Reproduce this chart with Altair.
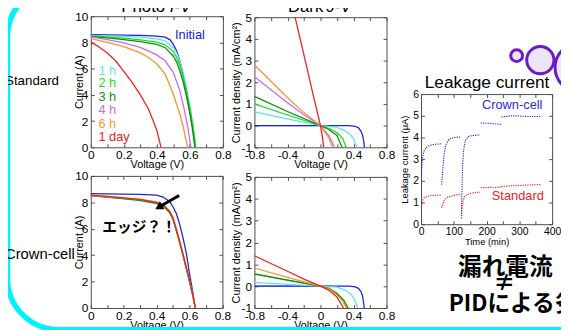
import altair as alt
import pandas as pd

W, H = 561, 322
FONT = "Liberation Sans"
JFONT = "Noto Sans CJK JP"
FRAME = "#4d4d4d"

SERIES = ["Initial flat", "Initial", "1 h", "2 h", "3 h", "4 h", "6 h", "1 day", "Crown-cell", "Standard"]
COLORS = ["#8c8cf2", "#2222dd", "#5fe3f2", "#22dd22", "#138a13", "#c46ee6", "#ff9233", "#ee2222", "#2a2ae8", "#ee2222"]

# ---------------- Photo I-V, Standard ----------------
ps_initial_v = [0, 0.1, 0.2, 0.3, 0.4, 0.45, 0.48, 0.5, 0.52, 0.54, 0.56, 0.58, 0.6, 0.62, 0.635]
ps_initial_i = [8.6, 8.58, 8.56, 8.53, 8.48, 8.4, 8.2, 7.85, 7.35, 6.55, 5.4, 4.15, 2.7, 1.3, 0]
ps_1h_v = [0, 0.1, 0.2, 0.3, 0.4, 0.45, 0.5, 0.52, 0.54, 0.56, 0.58, 0.6, 0.62, 0.635]
ps_1h_i = [8.54, 8.5, 8.46, 8.4, 8.28, 8.12, 7.6, 7.2, 6.55, 5.7, 4.5, 3.1, 1.6, 0]
ps_2h_v = [0, 0.1, 0.2, 0.3, 0.4, 0.45, 0.5, 0.52, 0.54, 0.56, 0.58, 0.6, 0.62, 0.635]
ps_2h_i = [8.49, 8.42, 8.33, 8.2, 8.02, 7.82, 7.3, 6.85, 6.2, 5.35, 4.3, 3.0, 1.5, 0]
ps_3h_v = [0, 0.1, 0.2, 0.3, 0.4, 0.45, 0.5, 0.52, 0.54, 0.56, 0.58, 0.6, 0.615, 0.63]
ps_3h_i = [8.44, 8.35, 8.22, 8.07, 7.85, 7.6, 6.95, 6.5, 5.8, 4.95, 3.85, 2.6, 1.45, 0]
ps_4h_v = [0, 0.1, 0.2, 0.3, 0.4, 0.45, 0.5, 0.54, 0.57, 0.59, 0.606]
ps_4h_i = [8.42, 8.22, 7.97, 7.62, 7.05, 6.6, 5.7, 4.3, 2.65, 1.35, 0]
ps_6h_v = [0, 0.1, 0.2, 0.3, 0.35, 0.4, 0.45, 0.5, 0.54, 0.56, 0.586]
ps_6h_i = [8.29, 8.0, 7.68, 7.2, 6.85, 6.35, 5.6, 4.05, 2.5, 1.55, 0]
ps_1day_v = [0, 0.05, 0.1, 0.15, 0.2, 0.25, 0.3, 0.35, 0.4, 0.425]
ps_1day_i = [8.04, 7.65, 7.2, 6.6, 5.8, 4.95, 4.0, 2.9, 1.3, 0]

ps_labels = ["Initial", "1 h", "2 h", "3 h", "4 h", "6 h", "1 day"]
ps_label_v = [0.51, 0.046, 0.046, 0.046, 0.046, 0.046, 0.046]
ps_label_i = [8.57, 5.8, 4.9, 3.85, 2.85, 1.8, 0.78]

# ---------------- Dark J-V, Standard ----------------
ds_flat_v = [-0.8, 0.13]
ds_flat_j = [0, 0]
ds_initial_v = [-0.8, 0.35, 0.42, 0.46, 0.49, 0.51, 0.525, 0.532]
ds_initial_j = [0, 0, -0.03, -0.1, -0.25, -0.45, -0.75, -1.0]
ds_1h_v = [-0.8, -0.4, 0, 0.1, 0.2, 0.3, 0.35, 0.4, 0.44]
ds_1h_j = [0.63, 0.31, 0, -0.03, -0.08, -0.24, -0.38, -0.6, -1.0]
ds_2h_v = [-0.8, -0.4, 0, 0.1, 0.2, 0.27, 0.31]
ds_2h_j = [1.0, 0.49, 0, -0.12, -0.33, -0.6, -1.0]
ds_3h_v = [-0.8, -0.4, 0, 0.1, 0.2, 0.26]
ds_3h_j = [1.35, 0.65, 0, -0.18, -0.45, -1.0]
ds_4h_v = [-0.8, -0.4, -0.2, 0, 0.1, 0.17]
ds_4h_j = [2.25, 1.05, 0.5, 0, -0.45, -1.0]
ds_6h_v = [-0.8, -0.4, -0.2, 0, 0.1, 0.145]
ds_6h_j = [2.8, 1.3, 0.6, 0, -0.55, -1.0]
ds_1day_v = [-0.308, -0.2, -0.1, 0, 0.02, 0.04]
ds_1day_j = [5.0, 3.25, 1.6, 0, -0.45, -1.0]

# ---------------- Photo I-V, Crown-cell ----------------
pc_v = [0, 0.1, 0.2, 0.3, 0.4, 0.44, 0.48, 0.5, 0.52, 0.54, 0.56, 0.58, 0.6, 0.62, 0.635]
pc_initial_i = [8.65, 8.64, 8.62, 8.6, 8.55, 8.4, 8.05, 7.65, 7.15, 6.35, 5.35, 4.2, 2.6, 1.2, 0]
pc_1h_i = [8.48, 8.38, 8.26, 8.13, 7.9, 7.72, 7.22, 6.72, 5.88, 4.98, 4.02, 3.02, 2.02, 0.97, 0]
pc_2h_i = [8.51, 8.42, 8.3, 8.18, 7.95, 7.77, 7.25, 6.75, 5.9, 5.0, 4.05, 3.05, 2.05, 0.98, 0]
pc_3h_i = [8.5, 8.4, 8.28, 8.15, 7.92, 7.73, 7.2, 6.7, 5.85, 4.95, 4.0, 3.0, 2.0, 0.95, 0]
pc_6h_i = [8.52, 8.44, 8.34, 8.22, 8.01, 7.84, 7.33, 6.83, 5.98, 5.07, 4.12, 3.1, 2.1, 1.0, 0]
pc_1day_i = [8.54, 8.45, 8.34, 8.22, 8.0, 7.82, 7.3, 6.8, 5.95, 5.05, 4.1, 3.1, 2.1, 1.0, 0]

# ---------------- Dark J-V, Crown-cell ----------------
dc_flat_v = [-0.8, 0.13]
dc_flat_j = [0, 0]
dc_initial_v = [-0.8, 0.35, 0.42, 0.46, 0.49, 0.51, 0.522, 0.53]
dc_initial_j = [0, 0, -0.03, -0.1, -0.25, -0.45, -0.75, -1.0]
dc_1h_v = [-0.8, -0.4, 0, 0.1, 0.2, 0.3, 0.36, 0.41, 0.45]
dc_1h_j = [0.17, 0.08, 0, -0.02, -0.05, -0.18, -0.33, -0.58, -1.0]
dc_2h_v = [-0.8, -0.4, 0, 0.1, 0.2, 0.28, 0.335]
dc_2h_j = [0.55, 0.27, 0, -0.1, -0.33, -0.62, -1.0]
dc_3h_v = [-0.8, -0.4, 0, 0.1, 0.2, 0.28, 0.33]
dc_3h_j = [0.56, 0.27, 0, -0.1, -0.35, -0.65, -1.0]
dc_6h_v = [-0.8, -0.4, 0, 0.1, 0.2, 0.27, 0.315]
dc_6h_j = [0.83, 0.4, 0, -0.12, -0.4, -0.68, -1.0]
dc_1day_v = [-0.8, -0.4, -0.2, 0, 0.1, 0.2, 0.28]
dc_1day_j = [1.39, 0.68, 0.32, 0, -0.18, -0.5, -1.0]

# ---------------- Leakage current ----------------
lc_t = [[1, 3, 6, 10, 20, 40, 63],
        [63, 66, 70, 75, 85, 100, 122],
        [123, 125, 127, 130, 135, 145, 160, 180],
        [182, 210, 245],
        [245, 280, 320, 365]]
lc_i = [[2.27, 2.8, 3.18, 3.41, 3.6, 3.68, 3.71],
        [1.82, 2.42, 3.18, 3.64, 3.91, 4.0, 4.03],
        [0.38, 1.67, 2.73, 3.41, 3.86, 4.05, 4.09, 4.12],
        [4.67, 4.65, 4.6],
        [4.94, 5.0, 4.97, 4.97]]
ls_t = [[2, 5, 10, 20, 30, 45, 63],
        [63, 70, 80, 100, 122],
        [123, 127, 132, 140, 150, 165, 180],
        [182, 215, 245],
        [245, 300, 365]]
ls_i = [[0.88, 1.1, 1.22, 1.29, 1.32, 1.33, 1.34],
        [0.76, 1.09, 1.24, 1.33, 1.39],
        [0.27, 0.98, 1.26, 1.36, 1.42, 1.46, 1.48],
        [1.68, 1.7, 1.71],
        [1.74, 1.79, 1.83]]
leak_labels = ["Crown-cell", "Standard"]
leak_label_t = [186, 216]
leak_label_i = [5.5, 1.32]

color_scale = alt.Scale(domain=SERIES, range=COLORS)
FMT1 = "datum.value == 0 ? '0' : (datum.value < 0 ? '-' : '') + format(abs(datum.value), '.1f')"
FMT0 = "(datum.value < 0 ? '-' : '') + format(abs(datum.value), 'd')"


def curves(items):
    rows = []
    for name, xs, ys in items:
        for k, (a, b) in enumerate(zip(xs, ys)):
            rows.append({"series": name, "seg": name, "x": a, "y": b, "k": k})
    return pd.DataFrame(rows)


def segments(name, tss, iss):
    rows = []
    for s, (ts, vs) in enumerate(zip(tss, iss)):
        for k, (a, b) in enumerate(zip(ts, vs)):
            rows.append({"series": name, "seg": f"{name}-{s}", "x": a, "y": b, "k": k})
    return rows


def scales(p):
    L, T, R, B = p["rect"]
    return (alt.Scale(domain=p["dx"], range=[L, R], nice=False, zero=False),
            alt.Scale(domain=p["dy"], range=[B, T], nice=False, zero=False))


def panel(df, p, width=1.3, dash=None):
    L, T, R, B = p["rect"]
    sx, sy = scales(p)
    common = dict(grid=False, labelFont=FONT, labelColor="black", titleFont=FONT,
                  titleColor="black", titleFontWeight="normal", minExtent=0,
                  labelFontSize=p["lfs"], titleFontSize=p["tfs"], domainColor=FRAME, domainWidth=1)
    kw = dict(strokeWidth=width)
    if dash:
        kw["strokeDash"] = dash
    data_layer = alt.Chart(df).mark_line(**kw).encode(
        x=alt.X("x:Q", scale=sx, axis=alt.Axis(
            orient="bottom", offset=B - H, values=p["xl"], tickSize=0, labelPadding=p["lpx"],
            labelExpr=p["fx"], labelFlush=False, labelOverlap=False, title=p["xt"],
            titlePadding=p["tpx"], **common)),
        y=alt.Y("y:Q", scale=sy, axis=alt.Axis(
            orient="left", offset=-L, values=p["yl"], tickSize=0, labelPadding=p["lpy"],
            labelExpr=p["fy"], labelFlush=False, labelOverlap=False, title=p["yt"],
            titlePadding=p["tpy"], **common)),
        color=alt.Color("series:N", scale=color_scale, legend=None),
        detail="seg:N",
        order="k:Q",
    )
    fdf = pd.DataFrame({"x": p["dx"], "y": p["dy"]})
    tk = dict(labels=False, grid=False, title=None, tickSize=3.5, tickColor=FRAME,
              tickWidth=1, minExtent=0, domainColor=FRAME, domainWidth=1)
    sx1, sy1 = scales(p)
    inner_a = alt.Chart(fdf).mark_point(opacity=0).encode(
        x=alt.X("x:Q", scale=sx1, axis=alt.Axis(orient="top", offset=-B, values=p["xk"], domain=False, **tk)),
        y=alt.Y("y:Q", scale=sy1, axis=alt.Axis(orient="right", offset=L - W, values=p["yk"], domain=False, **tk)),
    )
    sx2, sy2 = scales(p)
    inner_b = alt.Chart(fdf).mark_point(opacity=0).encode(
        x=alt.X("x:Q", scale=sx2, axis=alt.Axis(orient="bottom", offset=T - H, values=p["xk"], domain=True, **tk)),
        y=alt.Y("y:Q", scale=sy2, axis=alt.Axis(orient="left", offset=-R, values=p["yk"], domain=True, **tk)),
    )
    return [data_layer, inner_a, inner_b]


def fr(a, b, step, nd=1):
    n = int(round((b - a) / step))
    return [round(a + i * step, nd) for i in range(n + 1)]


P_PS = dict(rect=(84, 6, 218, 139), dx=[0, 0.8], dy=[0, 10], xl=fr(0, 0.8, 0.2), yl=fr(0, 10, 2, 0),
            xk=fr(0, 0.8, 0.1), yk=fr(0, 10, 2, 0), fx=FMT1, fy=FMT0, xt="Voltage (V)", yt="Current (A)",
            lfs=12, tfs=11, lpx=2.5, lpy=3, tpx=-2, tpy=-10)
P_DS = dict(rect=(250, 7, 384, 139), dx=[-0.8, 0.8], dy=[-1, 5], xl=fr(-0.8, 0.8, 0.4), yl=fr(-1, 5, 1, 0),
            xk=fr(-0.8, 0.8, 0.2), yk=fr(-1, 5, 1, 0), fx=FMT1, fy=FMT0, xt="Voltage (V)",
            yt="Current density (mA/cm²)", lfs=12, tfs=11, lpx=2.5, lpy=3, tpx=-2, tpy=-1)
P_PC = dict(P_PS, rect=(84, 168, 217.5, 302))
P_DC = dict(P_DS, rect=(250, 169, 384, 302))
P_LK = dict(rect=(419, 85, 552, 217), dx=[0, 400], dy=[0, 6], xl=fr(0, 400, 100, 0), yl=fr(0, 6, 1, 0),
            xk=fr(0, 400, 50, 0), yk=fr(0, 6, 1, 0), fx=FMT0, fy=FMT0, xt="Time (min)",
            yt="Leakage current (μA)", lfs=10.5, tfs=9.5, lpx=2.5, lpy=2.5, tpx=0, tpy=3.5)

df_ps = curves([("Initial", ps_initial_v, ps_initial_i), ("1 h", ps_1h_v, ps_1h_i),
                ("2 h", ps_2h_v, ps_2h_i), ("3 h", ps_3h_v, ps_3h_i), ("4 h", ps_4h_v, ps_4h_i),
                ("6 h", ps_6h_v, ps_6h_i), ("1 day", ps_1day_v, ps_1day_i)])
df_ds = curves([("Initial flat", ds_flat_v, ds_flat_j), ("Initial", ds_initial_v, ds_initial_j),
                ("1 h", ds_1h_v, ds_1h_j), ("2 h", ds_2h_v, ds_2h_j), ("3 h", ds_3h_v, ds_3h_j),
                ("4 h", ds_4h_v, ds_4h_j), ("6 h", ds_6h_v, ds_6h_j), ("1 day", ds_1day_v, ds_1day_j)])
df_pc = curves([("Initial", pc_v, pc_initial_i), ("1 h", pc_v, pc_1h_i), ("2 h", pc_v, pc_2h_i),
                ("3 h", pc_v, pc_3h_i), ("6 h", pc_v, pc_6h_i), ("1 day", pc_v, pc_1day_i)])
df_dc = curves([("Initial flat", dc_flat_v, dc_flat_j), ("Initial", dc_initial_v, dc_initial_j),
                ("1 h", dc_1h_v, dc_1h_j), ("2 h", dc_2h_v, dc_2h_j), ("3 h", dc_3h_v, dc_3h_j),
                ("6 h", dc_6h_v, dc_6h_j), ("1 day", dc_1day_v, dc_1day_j)])
df_lk = pd.DataFrame(segments("Crown-cell", lc_t, lc_i) + segments("Standard", ls_t, ls_i))

layers = []

# decorative slide frame (cyan rounded border)
one = pd.DataFrame({"k": [0]})
layers.append(alt.Chart(one).mark_rect(cornerRadius=52, stroke="#00f2ff", strokeWidth=5.5, fillOpacity=0).encode(
    x=alt.value(-0.5), x2=alt.value(700), y=alt.value(-25), y2=alt.value(324)))

layers += panel(df_ps, P_PS)
layers += panel(df_ds, P_DS)
layers += panel(df_pc, P_PC)
layers += panel(df_dc, P_DC)
layers += panel(df_lk, P_LK, width=1.1, dash=[1.3, 1.1])

# in-panel labels
sx, sy = scales(P_PS)
lab_ps = pd.DataFrame({"x": ps_label_v, "y": ps_label_i, "label": ps_labels, "series": ps_labels})
layers.append(alt.Chart(lab_ps).mark_text(align="left", baseline="middle", font=FONT, fontSize=13).encode(
    x=alt.X("x:Q", scale=sx, axis=None), y=alt.Y("y:Q", scale=sy, axis=None), text="label:N",
    color=alt.Color("series:N", scale=color_scale, legend=None)))

sx, sy = scales(P_LK)
lab_lk = pd.DataFrame({"x": leak_label_t, "y": leak_label_i, "label": leak_labels, "series": leak_labels})
layers.append(alt.Chart(lab_lk).mark_text(align="left", baseline="middle", font=FONT, fontSize=13).encode(
    x=alt.X("x:Q", scale=sx, axis=None), y=alt.Y("y:Q", scale=sy, axis=None), text="label:N",
    color=alt.Color("series:N", scale=color_scale, legend=None)))

# annotation in Crown-cell photo panel: arrow and "エッジ？！"
EDGE_TEXT = "エッジ？！"
edge_pos = (0.07, 6.09)
arrow_tail = (0.537, 8.51)
arrow_head = (0.42, 7.68)
sx, sy = scales(P_PC)
layers.append(alt.Chart(pd.DataFrame({"x": [edge_pos[0]], "y": [edge_pos[1]], "label": [EDGE_TEXT]})).mark_text(
    align="left", baseline="middle", font=JFONT, fontSize=15, fontWeight="bold", color="black").encode(
    x=alt.X("x:Q", scale=sx, axis=None), y=alt.Y("y:Q", scale=sy, axis=None), text="label:N"))
sx, sy = scales(P_PC)
arrow_df = pd.DataFrame({"x": [arrow_tail[0]], "y": [arrow_tail[1]], "x2": [arrow_head[0]], "y2": [arrow_head[1]]})
layers.append(alt.Chart(arrow_df).mark_rule(strokeWidth=3, color="black").encode(
    x=alt.X("x:Q", scale=sx, axis=None), y=alt.Y("y:Q", scale=sy, axis=None), x2="x2:Q", y2="y2:Q"))
sx, sy = scales(P_PC)
layers.append(alt.Chart(pd.DataFrame({"x": [arrow_head[0]], "y": [arrow_head[1]]})).mark_point(
    shape="triangle", filled=True, size=85, angle=240, color="black", opacity=1).encode(
    x=alt.X("x:Q", scale=sx, axis=None), y=alt.Y("y:Q", scale=sy, axis=None)))


def label(text, x, y, size, align="left", baseline="middle", font=FONT, weight="normal", style="normal", color="black"):
    return alt.Chart(pd.DataFrame({"label": [text]})).mark_text(
        align=align, baseline=baseline, font=font, fontSize=size, fontWeight=weight,
        fontStyle=style, color=color).encode(x=alt.value(x), y=alt.value(y), text="label:N")


layers.append(label("Photo", 115, 1.5, 17, baseline="alphabetic"))
layers.append(label("I-V", 164, 1.5, 17, baseline="alphabetic", style="italic"))
layers.append(label("Dark", 284, 1.5, 17, baseline="alphabetic"))
layers.append(label("J-V", 323, 1.5, 17, baseline="alphabetic", style="italic"))
layers.append(label("Leakage current", 486, 79.3, 17.5, align="center", baseline="alphabetic"))
layers.append(label("Standard", -3, 72, 13.5))
layers.append(label("Crown-cell", -3, 247, 15))
layers.append(label("漏れ電流", 504.5, 262, 24, align="center", font=JFONT, weight="bold"))
layers.append(label("≠", 503.5, 277, 22, align="center", font=JFONT, weight="bold"))
layers.append(label("PIDによる劣化", 447, 298, 23, font=JFONT, weight="bold"))

# purple bubbles
for cx, cy, sz in [(516, 46, 144), (540, 50.5, 762), (580, 58, 2500)]:
    layers.append(alt.Chart(one).mark_point(shape="circle", filled=False, fill="#ece4f8", fillOpacity=1,
                                            stroke="#6a1bc9", strokeWidth=3, size=sz, opacity=1).encode(
        x=alt.value(cx), y=alt.value(cy)))

chart = alt.layer(*layers).properties(
    width=W, height=H,
    padding={"left": 0, "top": 0, "right": 0, "bottom": 0},
    autosize=alt.AutoSizeParams(type="none"),
).resolve_scale(x="independent", y="independent").configure_view(strokeOpacity=0)

chart.save("out.html", embed_options={"renderer": "svg", "actions": False})
